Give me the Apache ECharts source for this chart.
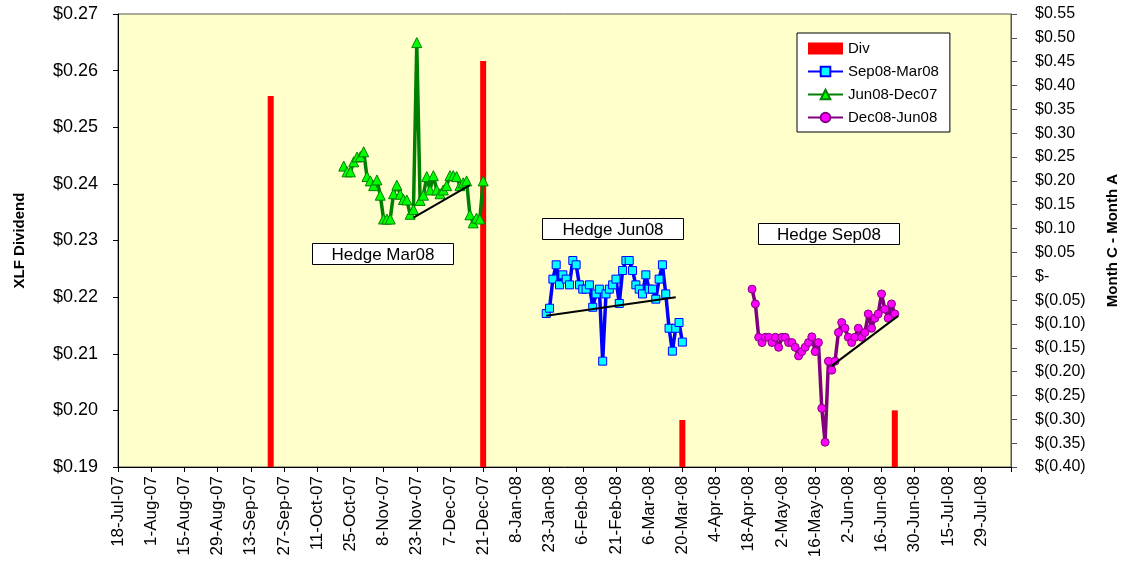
<!DOCTYPE html>
<html>
<head>
    <meta charset="utf-8">
    <title>XLF Dividend</title>
    <script src="https://cdn.jsdelivr.net/npm/echarts@6/dist/echarts.min.js"></script>
    <style>
        body { margin: 0; background: #fff; }
        #chart1 { width: 1121px; height: 562px; }
    </style>
</head>
<body>
<div id="chart1"></div>
<script>
    // x axis = trading day index, a label every 10 days
    var tickLabels = ['18-Jul-07', '1-Aug-07', '15-Aug-07', '29-Aug-07', '13-Sep-07', '27-Sep-07',
        '11-Oct-07', '25-Oct-07', '8-Nov-07', '23-Nov-07', '7-Dec-07', '21-Dec-07', '8-Jan-08',
        '23-Jan-08', '6-Feb-08', '21-Feb-08', '6-Mar-08', '20-Mar-08', '4-Apr-08', '18-Apr-08',
        '2-May-08', '16-May-08', '2-Jun-08', '16-Jun-08', '30-Jun-08', '15-Jul-08', '29-Jul-08'];

    // dividends (left axis)
    var divDays = [46, 110, 170, 234];
    var divValues = [0.2555, 0.2617, 0.1983, 0.2000];

    // spreads (right axis), one value per trading day from the start index
    var jun08Start = 68;
    var jun08Dec07 = [0.231, 0.219, 0.219, 0.240, 0.250, 0.251, 0.261, 0.209, 0.200, 0.190, 0.202,
        0.170, 0.120, 0.120, 0.120, 0.173, 0.191, 0.172, 0.161, 0.160, 0.130, 0.140, 0.490, 0.159,
        0.170, 0.209, 0.181, 0.211, 0.181, 0.173, 0.181, 0.190, 0.211, 0.211, 0.209, 0.190, 0.196,
        0.200, 0.129, 0.112, 0.122, 0.120, 0.200];

    var sep08Start = 129;
    var sep08Mar08 = [-0.078, -0.067, -0.006, 0.024, -0.018, 0.003, -0.006, -0.018, 0.033, 0.024,
        -0.018, -0.027, -0.027, -0.018, -0.065, -0.037, -0.027, -0.178, -0.037, -0.027, -0.018,
        -0.006, -0.057, 0.012, 0.033, 0.033, 0.012, -0.018, -0.027, -0.037, 0.003, -0.027, -0.027,
        -0.048, -0.006, 0.024, -0.037, -0.109, -0.157, -0.109, -0.097, -0.138];

    var dec08Start = 191;
    var dec08Jun08 = [-0.027, -0.058, -0.128, -0.139, -0.128, -0.128, -0.139, -0.128, -0.149,
        -0.128, -0.128, -0.139, -0.139, -0.149, -0.167, -0.158, -0.149, -0.139, -0.127, -0.158,
        -0.139, -0.277, -0.348, -0.178, -0.197, -0.178, -0.118, -0.097, -0.109, -0.128, -0.139,
        -0.128, -0.109, -0.128, -0.118, -0.079, -0.109, -0.088, -0.079, -0.037, -0.069, -0.088,
        -0.058, -0.079];

    // black trend lines [day, value]
    var trendMar = [[89, 0.123], [106, 0.191]];
    var trendJun = [[129, -0.083], [168, -0.044]];
    var trendSep = [[215, -0.188], [235, -0.083]];

    var font = "'Liberation Sans', Arial, sans-serif";

    function toPoints(start, values) {
        return values.map(function (v, i) { return [start + i, v]; });
    }

    function rightLabel(v) {
        if (Math.abs(v) < 1e-9) return '$-';
        if (v < 0) return '$(' + Math.abs(v).toFixed(2) + ')';
        return '$' + v.toFixed(2);
    }

    function hedgeBox(x, y, w, h, txt) {
        return {
            type: 'group', left: x, top: y, z: 100,
            children: [
                {type: 'rect', shape: {x: 0, y: 0, width: w, height: h},
                    style: {fill: '#fff', stroke: '#000', lineWidth: 1}},
                {type: 'text', x: w / 2, y: h / 2 + 1,
                    style: {text: txt, fill: '#000', font: '17px ' + font, align: 'center', verticalAlign: 'middle'}}
            ]
        };
    }

    var myChart1 = echarts.init(document.getElementById('chart1'));
    myChart1.setOption({
        animation: false,
        textStyle: {fontFamily: font},
        grid: {
            left: 118, right: 110, top: 14, bottom: 95,
            outerBoundsMode: 'none',
            show: true, backgroundColor: '#FFFFCC', borderColor: '#555', borderWidth: 1
        },
        legend: {
            orient: 'vertical', left: 797, top: 33,
            padding: [8, 11, 7, 10], itemGap: 8, itemWidth: 35, itemHeight: 12,
            backgroundColor: '#fff', borderColor: '#000', borderWidth: 1,
            textStyle: {fontSize: 15, color: '#000', fontFamily: font},
            data: [{name: 'Div', icon: 'rect'}, 'Sep08-Mar08', 'Jun08-Dec07', 'Dec08-Jun08']
        },
        xAxis: {
            type: 'value', min: 0, max: 269, interval: 10,
            splitLine: {show: false},
            axisLine: {onZero: false, lineStyle: {color: '#000'}},
            axisTick: {length: 5, lineStyle: {color: '#000'}},
            axisLabel: {
                rotate: 90, margin: 9, fontSize: 17, color: '#000',
                formatter: function (v) {
                    return v % 10 === 0 ? (tickLabels[v / 10] || '') : '';
                }
            }
        },
        yAxis: [{
            type: 'value', min: 0.19, max: 0.27, interval: 0.01,
            name: 'XLF Dividend', nameLocation: 'middle', nameRotate: 90, nameGap: 91,
            nameTextStyle: {fontSize: 15, fontWeight: 'bold', color: '#000'},
            splitLine: {show: false},
            axisLine: {show: true, onZero: false, lineStyle: {color: '#000'}},
            axisTick: {show: true, length: 5, lineStyle: {color: '#000'}},
            axisLabel: {
                margin: 20, fontSize: 18, color: '#000',
                formatter: function (v) { return '$' + v.toFixed(2); }
            }
        }, {
            type: 'value', min: -0.40, max: 0.55, interval: 0.05, position: 'right',
            name: 'Month C - Month A', nameLocation: 'middle', nameRotate: 90, nameGap: 94,
            nameTextStyle: {fontSize: 15, fontWeight: 'bold', color: '#000'},
            splitLine: {show: false},
            axisLine: {show: true, onZero: false, lineStyle: {color: '#555'}},
            axisTick: {show: true, length: 6, lineStyle: {color: '#555'}},
            axisLabel: {margin: 24, fontSize: 16, color: '#000', formatter: rightLabel}
        }],
        series: [{
            name: 'Div', type: 'bar', yAxisIndex: 0, barWidth: 6,
            itemStyle: {color: '#FF0000'},
            data: divDays.map(function (d, i) { return [d, divValues[i]]; })
        }, {
            name: 'Sep08-Mar08', type: 'line', yAxisIndex: 1,
            symbol: 'rect', symbolSize: 8,
            lineStyle: {color: '#0000FF', width: 3.5},
            itemStyle: {color: '#00FFFF', borderColor: '#0000FF', borderWidth: 1},
            data: toPoints(sep08Start, sep08Mar08)
        }, {
            name: 'Jun08-Dec07', type: 'line', yAxisIndex: 1,
            symbol: 'triangle', symbolSize: 10,
            lineStyle: {color: '#008000', width: 3.5},
            itemStyle: {color: '#00FF00', borderColor: '#008000', borderWidth: 1},
            data: toPoints(jun08Start, jun08Dec07)
        }, {
            name: 'Dec08-Jun08', type: 'line', yAxisIndex: 1,
            symbol: 'circle', symbolSize: 8,
            lineStyle: {color: '#800080', width: 3.5},
            itemStyle: {color: '#FF00FF', borderColor: '#800080', borderWidth: 1},
            data: toPoints(dec08Start, dec08Jun08)
        }, {
            type: 'line', yAxisIndex: 1, symbol: 'none', z: 5,
            lineStyle: {color: '#000', width: 2}, data: trendMar
        }, {
            type: 'line', yAxisIndex: 1, symbol: 'none', z: 5,
            lineStyle: {color: '#000', width: 2}, data: trendJun
        }, {
            type: 'line', yAxisIndex: 1, symbol: 'none', z: 5,
            lineStyle: {color: '#000', width: 2}, data: trendSep
        }],
        graphic: [
            hedgeBox(312, 243, 141, 21, 'Hedge Mar08'),
            hedgeBox(542, 218, 141, 21, 'Hedge Jun08'),
            hedgeBox(758, 223, 141, 21, 'Hedge Sep08')
        ]
    });
</script>
</body>
</html>
